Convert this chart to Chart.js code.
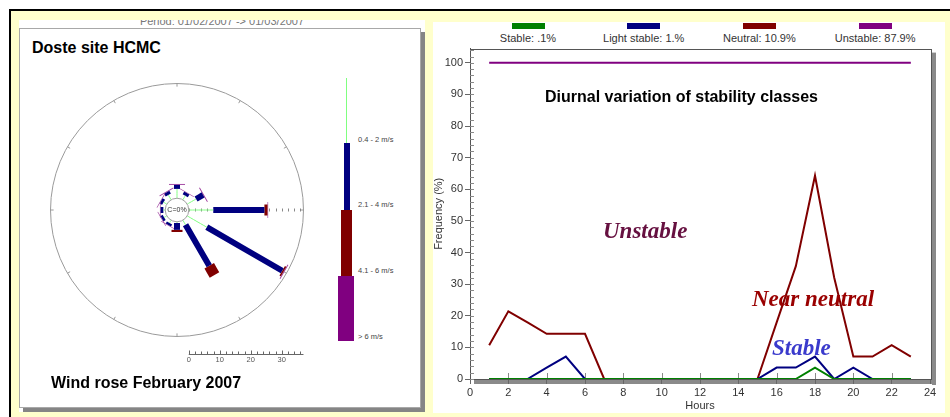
<!DOCTYPE html>
<html>
<head>
<meta charset="utf-8">
<script src="https://cdn.jsdelivr.net/npm/chart.js@4.4.1/dist/chart.umd.min.js"></script>
<style>
    body { margin: 0; width: 950px; height: 417px; position: relative; overflow: hidden; background: #fff; font-family: "Liberation Sans", Arial, sans-serif; }
    .abs { position: absolute; }
    #frame { left: 9px; top: 9px; width: 941px; height: 408px; background: #ffffcc; border-top: 2px solid #000; border-left: 2px solid #000; box-sizing: border-box; }
    #leftWhite { left: 19px; top: 20px; width: 406px; height: 392px; background: #fff; }
    #periodClip { left: 19px; top: 20px; width: 406px; height: 8px; overflow: hidden; }
    #period { position: absolute; left: 0; width: 406px; top: -4px; text-align: center; font-size: 11px; line-height: 11px; color: #777; white-space: nowrap; }
    #leftBox { left: 19px; top: 28px; width: 402px; height: 380px; background: #fff; border: 1px solid #a8a8a8; box-sizing: border-box; box-shadow: 4px 4px 0 #858585; }
    .title { font-weight: bold; font-size: 16px; line-height: 16px; color: #000; white-space: nowrap; }
    #rightWhite { left: 433px; top: 22px; width: 512px; height: 391px; background: #fff; }
    .swatch { height: 6px; width: 33px; }
    .legText { font-size: 11px; line-height: 11px; color: #333; white-space: nowrap; text-align: center; width: 110px; }
    .roseLeg { font-size: 7.5px; line-height: 8px; color: #444; white-space: nowrap; }
    .note { font-family: "Liberation Serif", "Times New Roman", serif; font-weight: bold; font-style: italic; font-size: 23px; line-height: 23px; white-space: nowrap; }
    canvas { position: absolute; }
</style>
</head>
<body>
<div id="frame" class="abs"></div>
<div id="leftWhite" class="abs"></div>
<div id="periodClip" class="abs"><div id="period">Period: 01/02/2007 -&gt; 01/03/2007</div></div>
<div id="leftBox" class="abs"></div>
<div class="abs title" style="left:32px; top:40px;">Doste site HCMC</div>

<canvas id="roseChart" width="300" height="320" style="left:27px; top:60px;"></canvas>

<div class="abs" style="left:346px; top:78px; width:1px; height:65px; background:#80ff80;"></div>
<div class="abs" style="left:344px; top:143px; width:6px; height:67px; background:#000080;"></div>
<div class="abs" style="left:341px; top:210px; width:11px; height:66px; background:#800000;"></div>
<div class="abs" style="left:338px; top:276px; width:16px; height:65px; background:#800080;"></div>
<div class="abs roseLeg" style="left:358px; top:136px;">0.4 - 2 m/s</div>
<div class="abs roseLeg" style="left:358px; top:201px;">2.1 - 4 m/s</div>
<div class="abs roseLeg" style="left:358px; top:267px;">4.1 - 6 m/s</div>
<div class="abs roseLeg" style="left:358px; top:333px;">&gt; 6 m/s</div>

<div class="abs title" style="left:51px; top:375px;">Wind rose February 2007</div>

<div id="rightWhite" class="abs"></div>
<div id="legend"></div>
<canvas id="stabilityChart" width="513" height="373" style="left:432px; top:40px;"></canvas>

<div class="abs title" style="left:545px; top:89px;">Diurnal variation of stability classes</div>
<div class="abs note" style="left:603px; top:219px; color:#661040;">Unstable</div>
<div class="abs note" style="left:752px; top:287px; color:#9a0000;">Near neutral</div>
<div class="abs note" style="left:772px; top:336px; color:#3a3acc;">Stable</div>

<script>
// wind rose: direction (deg) and frequency (%) per speed class
const roseDirections = [0, 30, 60, 90, 120, 150, 180, 210, 240, 270, 300, 330]
const roseSpeed04to2 = [3.0, 1.5, 3.3, 7.9, 7.3, 1.7, 0.4, 1.0, 1.0, 0.6, 1.2, 1.8]
const roseSpeed21to4 = [1.3, 1.0, 2.6, 16.5, 28.1, 15.3, 2.2, 0.8, 0.8, 0.9, 0.9, 1.0]
const roseSpeed41to6 = [0, 0, 0, 1.0, 0.5, 3.4, 0.7, 0, 0, 0, 0, 0]
const roseSpeedOver6 = [0.3, 0.2, 0.3, 0.2, 0.3, 0, 0, 0.2, 0.2, 0.2, 0.2, 0.3]
const roseCalmText = 'C=0%'
const roseScaleLabels = [0, 10, 20, 30]

// diurnal variation of stability classes (%)
const hours = [1, 2, 3, 4, 5, 6, 7, 8, 9, 10, 11, 12, 13, 14, 15, 16, 17, 18, 19, 20, 21, 22, 23]
const stable = [0, 0, 0, 0, 0, 0, 0, 0, 0, 0, 0, 0, 0, 0, 0, 0, 0, 3.6, 0, 0, 0, 0, 0]
const lightStable = [0, 0, 0, 3.6, 7.1, 0, 0, 0, 0, 0, 0, 0, 0, 0, 0, 3.6, 3.6, 7.1, 0, 3.6, 0, 0, 0]
const neutral = [10.7, 21.4, 17.9, 14.3, 14.3, 14.3, 0, 0, 0, 0, 0, 0, 0, 0, 0, 17.9, 35.7, 64.3, 32.1, 7.1, 7.1, 10.7, 7.1]
const unstable = [100, 100, 100, 100, 100, 100, 100, 100, 100, 100, 100, 100, 100, 100, 100, 100, 100, 100, 100, 100, 100, 100, 100]
const seriesLabels = ['Stable: .1%', 'Light stable: 1.%', 'Neutral: 10.9%', 'Unstable: 87.9%']

Chart.defaults.font.family = "'Liberation Sans', Arial, sans-serif"
Chart.defaults.animation = false

// ---------- wind rose ----------
const roseCalm = 3.8      // calm circle radius, in % units
const roseRing = 37       // outer ring, %
const roseScaleY = -46.4  // where the distance scale sits

const roseClasses = [
    { values: roseSpeed04to2, color: '#80ff80', width: 1 },
    { values: roseSpeed21to4, color: '#000080', width: 6 },
    { values: roseSpeed41to6, color: '#800000', width: 11 },
    { values: roseSpeedOver6, color: '#a040a0', width: 16 }
]

function polar(r, deg) {
    const a = deg * Math.PI / 180
    return { x: r * Math.sin(a), y: r * Math.cos(a) }
}

const roseDatasets = []
roseDirections.forEach((dir, i) => {
    let start = roseCalm
    roseClasses.forEach(cls => {
        const v = cls.values[i]
        if (v > 0) {
            roseDatasets.push({
                data: [polar(start, dir), polar(start + v, dir)],
                borderColor: cls.color,
                borderWidth: cls.width,
                borderCapStyle: 'butt',
                tension: 0.001, // keeps chart.js off its fast path, which mangles very short thick lines
                showLine: true,
                pointRadius: 0
            })
        }
        start += v
    })
})

const roseFrame = {
    id: 'roseFrame',
    beforeDatasetsDraw(chart) {
        const { ctx, scales: { x, y } } = chart
        const px = p => [x.getPixelForValue(p.x), y.getPixelForValue(p.y)]
        const cx = x.getPixelForValue(0), cy = y.getPixelForValue(0)
        const k = x.getPixelForValue(1) - cx
        ctx.save()
        ctx.strokeStyle = '#9a9a9a'
        ctx.lineWidth = 1
        ctx.beginPath()
        ctx.arc(cx, cy, (roseCalm + roseRing) * k, 0, Math.PI * 2)
        ctx.stroke()
        // small ticks on the ring
        ctx.beginPath()
        roseDirections.forEach(d => {
            const a = px(polar(roseCalm + roseRing, d)), b = px(polar(roseCalm + roseRing - 1, d))
            ctx.moveTo(a[0], a[1]); ctx.lineTo(b[0], b[1])
        })
        ctx.stroke()
        // dotted distance ticks along east
        ctx.strokeStyle = '#888'
        ctx.beginPath()
        for (let v = 0; v <= 36; v += 2) {
            const p = Math.round(x.getPixelForValue(roseCalm + v)) + 0.5
            ctx.moveTo(p, cy - 1.5); ctx.lineTo(p, cy + 1.5)
        }
        ctx.stroke()
        // distance scale under the rose
        const yb = Math.round(y.getPixelForValue(roseScaleY)) + 0.5
        ctx.strokeStyle = '#666'
        ctx.beginPath()
        ctx.moveTo(x.getPixelForValue(roseCalm), yb)
        ctx.lineTo(x.getPixelForValue(roseCalm + roseRing), yb)
        for (let v = 0; v <= roseRing; v += 2) {
            const p = Math.round(x.getPixelForValue(roseCalm + v)) + 0.5
            ctx.moveTo(p, yb); ctx.lineTo(p, yb - (v % 10 === 0 ? 4 : 3))
        }
        ctx.stroke()
        ctx.fillStyle = '#555'
        ctx.font = "7.5px 'Liberation Sans', Arial, sans-serif"
        ctx.textAlign = 'center'
        ctx.textBaseline = 'top'
        roseScaleLabels.forEach(v => ctx.fillText(String(v), x.getPixelForValue(roseCalm + v), yb + 2))
        ctx.restore()
    },
    afterDatasetsDraw(chart) {
        const { ctx, scales: { x, y } } = chart
        const cx = x.getPixelForValue(0), cy = y.getPixelForValue(0)
        const k = x.getPixelForValue(1) - cx
        ctx.save()
        ctx.fillStyle = '#fff'
        ctx.strokeStyle = '#a0a0a0'
        ctx.beginPath()
        ctx.arc(cx, cy, roseCalm * k, 0, Math.PI * 2)
        ctx.fill()
        ctx.stroke()
        ctx.fillStyle = '#333'
        ctx.font = "7px 'Liberation Sans', Arial, sans-serif"
        ctx.textAlign = 'center'
        ctx.textBaseline = 'middle'
        ctx.fillText(roseCalmText, cx, cy)
        ctx.restore()
    }
}

new Chart(document.getElementById('roseChart'), {
    type: 'scatter',
    data: { datasets: roseDatasets },
    options: {
        responsive: false,
        devicePixelRatio: 1,
        layout: { padding: 0 },
        plugins: { legend: { display: false }, tooltip: { enabled: false } },
        scales: {
            x: { type: 'linear', min: -48.39, max: 48.39, display: false },
            y: { type: 'linear', min: -54.84, max: 48.39, display: false }
        }
    },
    plugins: [roseFrame]
})

// ---------- stability classes ----------
const seriesData = [stable, lightStable, neutral, unstable]
const seriesColors = ['#008000', '#000080', '#800000', '#800080']

// legend above the chart
const legend = document.getElementById('legend')
seriesLabels.forEach((label, i) => {
    const cx = 528 + i * 115.7
    legend.insertAdjacentHTML('beforeend',
        `<div class="abs swatch" style="left:${cx - 16.5}px; top:23px; background:${seriesColors[i]};"></div>` +
        `<div class="abs legText" style="left:${cx - 55}px; top:33px;">${label}</div>`)
})

const plotBox = {
    id: 'plotBox',
    beforeDraw(chart) {
        const { ctx, chartArea: a } = chart
        ctx.save()
        ctx.fillStyle = '#8a8a8a'
        ctx.fillRect(a.right + 2, a.top + 4, 4, a.bottom - a.top + 2)
        ctx.fillRect(a.left + 4, a.bottom + 1, a.right - a.left + 2, 4)
        ctx.restore()
    },
    beforeDatasetsDraw(chart) {
        const { ctx, chartArea: a, scales: { x, y } } = chart
        ctx.save()
        ctx.strokeStyle = '#555'
        ctx.lineWidth = 1
        ctx.strokeRect(Math.round(a.left) + 0.5, Math.round(a.top) + 0.5, Math.round(a.right - a.left) + 1, Math.round(a.bottom - a.top))
        ctx.strokeStyle = '#8a8a8a'
        ctx.beginPath()
        for (let v = 0; v <= y.max; v += 2) {
            const p = Math.round(y.getPixelForValue(v)) + 0.5
            ctx.moveTo(a.left, p); ctx.lineTo(a.left + 4, p)
        }
        for (let v = 2; v < x.max; v += 2) {
            const p = Math.round(x.getPixelForValue(v)) + 0.5
            ctx.moveTo(p, a.bottom); ctx.lineTo(p, a.bottom - 6)
        }
        ctx.stroke()
        ctx.restore()
    }
}

new Chart(document.getElementById('stabilityChart'), {
    type: 'line',
    data: {
        datasets: seriesData.map((vals, i) => ({
            label: seriesLabels[i],
            data: hours.map((h, j) => ({ x: h, y: vals[j] })),
            borderColor: seriesColors[i],
            borderWidth: 2,
            pointRadius: 0,
            tension: 0
        }))
    },
    options: {
        responsive: false,
        devicePixelRatio: 1,
        layout: { padding: { top: 8, right: 15, left: 0, bottom: 0 } },
        plugins: { legend: { display: false }, tooltip: { enabled: false } },
        scales: {
            x: {
                type: 'linear', min: 0, max: 24,
                ticks: { stepSize: 2, color: '#333', font: { size: 11 }, padding: 2, maxRotation: 0 },
                grid: { drawOnChartArea: false, tickLength: 5, color: '#666' },
                border: { color: '#555' },
                title: { display: true, text: 'Hours', color: '#333', font: { size: 11 }, padding: 0 },
                afterFit(scale) { scale.height = 34 }
            },
            y: {
                type: 'linear', min: 0, max: 104.5,
                ticks: { stepSize: 10, includeBounds: false, color: '#333', font: { size: 11 }, padding: 2 },
                grid: { drawOnChartArea: false, tickLength: 5, color: '#666' },
                border: { color: '#555' },
                title: { display: true, text: 'Frequency (%)', color: '#333', font: { size: 11 }, padding: 0 },
                afterFit(scale) { scale.width = 38 }
            }
        }
    },
    plugins: [plotBox]
})
</script>
</body>
</html>
